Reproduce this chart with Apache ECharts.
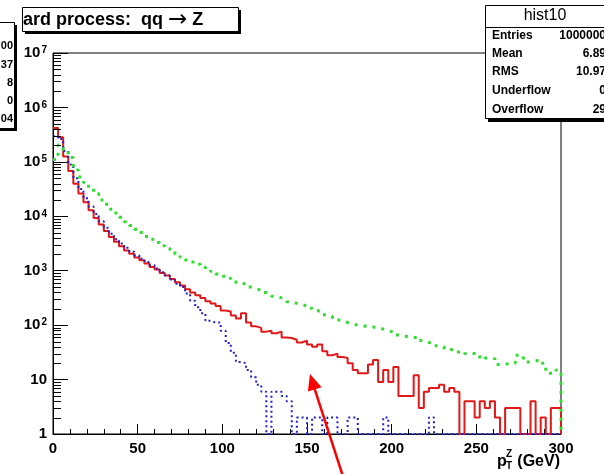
<!DOCTYPE html>
<html><head><meta charset="utf-8">
<script src="https://cdn.jsdelivr.net/npm/echarts@6/dist/echarts.min.js"></script>
<style>html,body{margin:0;padding:0;background:#fff}#c{width:604px;height:474px}</style>
</head><body><div id="c"></div>
<script>
// ---- data (counts per 3 GeV bin, 0..300 GeV) ----
const binWidth = 3;
const red = [417000,282000,126000,67600,39800,26300,18200,12900,9330,7080,
  5370,4170,3390,2820,2340,2040,1740,1550,1350,1175,
  1050,912,813,708,617,537,457,398,355,316,
  275,251,224,186,178,151,132,166,112,95,
  89,76,79,71,76,59,58,54,48,52,
  44,40,44,33,28,30,26,25,20,15,
  13,13,19,23,9,15,9,17,5,5,
  5,12,3,6,7,7,8,6,7,6,
  0,4,4,2,4,3,4,2,1,3,
  3,3,0,0,4,0,2,0,3,3];
const blue = [295000,263000,158000,89000,50100,31600,21400,15100,11000,8130,
  6170,4790,3800,3160,2630,2240,1900,1660,1450,1260,
  1100,933,813,692,575,501,380,282,214,166,
  120,112,112,79,47,31,21,20,15,11,
  8,6,0,6,6,5,4,0,2,2,
  0,2,2,0,2,2,0,0,2,2,
  0,0,0,0,0,2,0,0,0,0,
  0,0,0,0,2,0,0,0,0,0,
  0,0,0,0,0,0,0,0,0,0,
  0,0,0,0,0,0,0,0,0,0];
const green = [110000,204000,166000,120000,70800,52500,41700,33100,26300,20000,
  16600,13500,11500,9550,7940,6760,5750,5010,4270,3800,
  3310,2880,2570,2290,2000,1780,1580,1450,1320,1170,
  1070,977,871,794,724,661,603,562,501,468,
  437,398,372,339,316,295,269,251,240,224,
  204,186,174,155,145,126,120,112,105,100,
  98,93,93,87,85,79,74,66,63,62,
  59,60,52,48,46,42,40,36,35,32,
  33,30,30,26,28,25,24,19,19,20,
  20,28,25,21,22,23,20,13,13,15];
const xTickLabels = ['0','50','100','150','200','250','300'];
const yDecades = [1,10,100,1000,10000,100000,1000000,10000000];
const titleParts = ['ard process:  qq ', '\u2192', ' Z'];
const leftStatValues = ['00','37','8','0','04'];
const statNames = ['Entries','Mean','RMS','Underflow','Overflow'];
const statValues = ['1000000','6.89','10.97','0','29'];

// ---- build ----
const FONT = 'Liberation Sans, Arial, Helvetica, sans-serif';
function histData(counts){
  const d = counts.map((c,i)=>[i*binWidth, Math.max(c,1)]);
  d.push([counts.length*binWidth, Math.max(counts[counts.length-1],1)]);
  d.push([counts.length*binWidth, 1]);
  return d;
}
const minorTicks = [];
for (let k=0;k<7;k++) for (let m=2;m<=9;m++) minorTicks.push([0, m*yDecades[k]]);

const chart = echarts.init(document.getElementById('c'), null, {renderer:'canvas'});

const G = [];
// stat box right
G.push({type:'rect', shape:{x:488,y:8,width:140,height:114}, style:{fill:'#000'}, z:50});
G.push({type:'rect', shape:{x:485.5,y:5.5,width:140,height:113}, style:{fill:'#fff',stroke:'#000',lineWidth:1}, z:51});
G.push({type:'line', shape:{x1:485,y1:27.5,x2:610,y2:27.5}, style:{stroke:'#000',lineWidth:1}, z:52});
G.push({type:'text', x:545, y:16, style:{text:'hist10', font:'16px '+FONT, fill:'#000', align:'center', verticalAlign:'middle'}, z:53});
const rowsY = [36,54,72,91,110];
statNames.forEach((n,i)=>{
  G.push({type:'text', x:492, y:rowsY[i], style:{text:n, font:'bold 12px '+FONT, fill:'#000', align:'left', verticalAlign:'middle'}, z:53});
  G.push({type:'text', x:606, y:rowsY[i], style:{text:statValues[i], font:'bold 12px '+FONT, fill:'#000', align:'right', verticalAlign:'middle'}, z:53});
});
// stat box left (clipped)
G.push({type:'rect', shape:{x:-30,y:25,width:47,height:106}, style:{fill:'#000'}, z:50});
G.push({type:'rect', shape:{x:-30,y:22.5,width:44.5,height:106}, style:{fill:'#fff',stroke:'#000',lineWidth:1}, z:51});
const leftRowsY = [46,65,83,101,119];
leftStatValues.forEach((v,i)=>{
  G.push({type:'text', x:13, y:leftRowsY[i], style:{text:v, font:'bold 11px '+FONT, fill:'#000', align:'right', verticalAlign:'middle'}, z:53});
});
// title box
G.push({type:'rect', shape:{x:25,y:10,width:216,height:24}, style:{fill:'#000'}, z:50});
G.push({type:'rect', shape:{x:22.5,y:7.5,width:216,height:24}, style:{fill:'#fff',stroke:'#000',lineWidth:1}, z:51});
G.push({type:'text', x:23, y:20, style:{
  text:'{a|'+titleParts[0]+'}{r|'+titleParts[1]+'}{a|'+titleParts[2]+'}',
  align:'left', verticalAlign:'middle',
  rich:{a:{fontFamily:FONT, fontWeight:'bold', fontSize:18, fill:'#000', lineHeight:22},
        r:{fontFamily:'DejaVu Sans', fontSize:23, fill:'#000', lineHeight:22}}}, z:53});
// x axis title
G.push({type:'text', x:497, y:462, style:{text:'p', font:'bold 16px '+FONT, fill:'#000', align:'left', verticalAlign:'middle'}, z:53});
G.push({type:'text', x:506, y:454, style:{text:'Z', font:'bold 10px '+FONT, fill:'#000', align:'left', verticalAlign:'middle'}, z:53});
G.push({type:'text', x:506, y:466, style:{text:'T', font:'bold 10px '+FONT, fill:'#000', align:'left', verticalAlign:'middle'}, z:53});
G.push({type:'text', x:560, y:462, style:{text:'(GeV)', font:'bold 16px '+FONT, fill:'#000', align:'right', verticalAlign:'middle'}, z:53});
// red arrow
G.push({type:'line', shape:{x1:343.5,y1:478,x2:314.7,y2:389.2}, style:{stroke:'#ff0000',lineWidth:2.5}, z:60});
G.push({type:'polygon', shape:{points:[[310,374],[321.6,387.2],[307.9,391.6]]}, style:{fill:'#ff0000'}, z:60});

const option = {
  animation:false,
  backgroundColor:'#fff',
  grid:{left:53, right:43, top:53, bottom:40, show:true, borderColor:'#000', borderWidth:1, containLabel:false},
  xAxis:{type:'value', min:0, max:300, interval:50,
    axisLine:{show:true, lineStyle:{color:'#000',width:1}},
    axisTick:{show:true, inside:true, length:10, lineStyle:{color:'#000'}},
    minorTick:{show:true, splitNumber:5, length:5, lineStyle:{color:'#000'}},
    splitLine:{show:false},
    axisLabel:{color:'#000', fontFamily:FONT, fontWeight:'bold', fontSize:15, margin:7,
      formatter:(v)=>xTickLabels[Math.round(v/50)] ?? ''}},
  yAxis:{type:'log', logBase:10, min:1, max:1e7,
    axisLine:{show:true, onZero:false, lineStyle:{color:'#000',width:1}},
    axisTick:{show:true, inside:true, length:15, lineStyle:{color:'#000'}},
    minorTick:{show:false},
    splitLine:{show:false},
    axisLabel:{color:'#000', fontFamily:FONT, fontWeight:'bold', fontSize:15, margin:6, showMinLabel:true, showMaxLabel:true,
      formatter:(v)=>{const e=Math.round(Math.log10(v)); if(e===0) return '1'; if(e===1) return '10'; return '10{s|'+e+'}';},
      rich:{s:{fontFamily:FONT, fontWeight:'bold', fontSize:10, verticalAlign:'top', lineHeight:10, padding:[0,0,0,1]}}}},
  series:[
    {type:'line', name:'red', data:histData(red), step:'end', showSymbol:false, symbol:'none',
      lineStyle:{color:'#e01818', width:2}, z:3},
    {type:'line', name:'blue', data:histData(blue), step:'end', showSymbol:false, symbol:'none',
      lineStyle:{color:'#2020cc', width:2, type:[2,3]}, z:4},
    {type:'line', name:'green', data:histData(green), step:'end', showSymbol:false, symbol:'none',
      lineStyle:{color:'#2ee02e', width:3, type:[3,6]}, z:4},
    {type:'custom', name:'ytickminor', silent:true, data:minorTicks, z:5,
      renderItem:(params, api)=>{
        const p = api.coord([0, api.value(1)]);
        return {type:'line', shape:{x1:p[0], y1:Math.round(p[1])+0.5, x2:p[0]+8, y2:Math.round(p[1])+0.5}, style:{stroke:'#000', lineWidth:1}};
      }}
  ],
  graphic:G
};
chart.setOption(option);
</script></body></html>
